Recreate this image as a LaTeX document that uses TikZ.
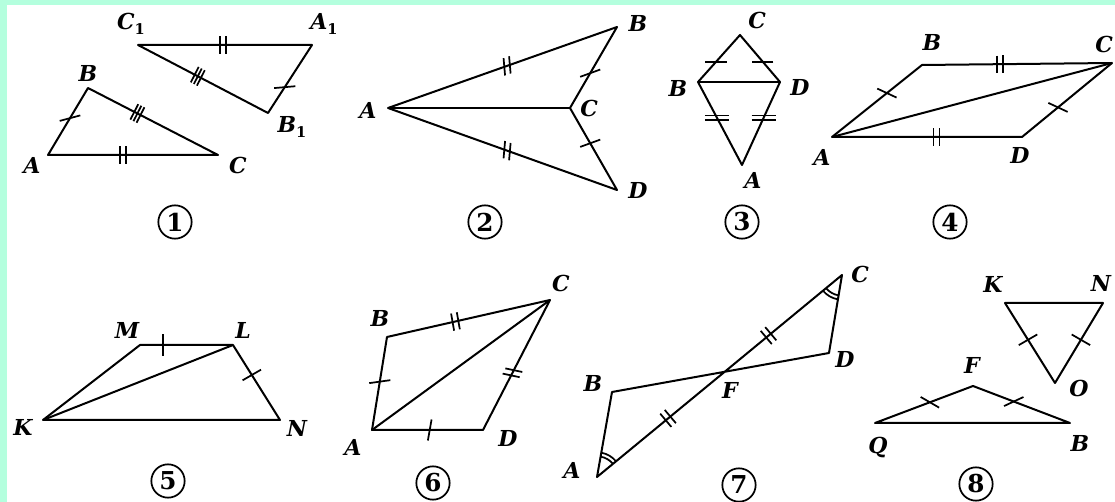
\documentclass[tikz,border=0pt]{standalone}
\usepackage{fontspec}
\newfontfamily\lblfont{DejaVu Serif}
\usetikzlibrary{calc}
\definecolor{bordergreen}{RGB}{180,255,222}
\newcommand\tkone[4]{%
  \coordinate (tk) at ($(#1)!#3!(#2)$);
  \draw[tickline] ($(tk)+(#4:8pt)$) -- ($(tk)-(#4:8pt)$);}
\newcommand\tktwo[4]{%
  \coordinate (tk) at ($(#1)!#3!(#2)$);
  \coordinate (tka) at ($(tk)!2.2pt!(#2)$);
  \coordinate (tkb) at ($(tk)!2.2pt!(#1)$);
  \draw[tickline] ($(tka)+(#4:6.5pt)$) -- ($(tka)-(#4:6.5pt)$);
  \draw[tickline] ($(tkb)+(#4:6.5pt)$) -- ($(tkb)-(#4:6.5pt)$);}
\newcommand\tkthree[4]{%
  \coordinate (tk) at ($(#1)!#3!(#2)$);
  \coordinate (tka) at ($(tk)!2.6pt!(#2)$);
  \coordinate (tkb) at ($(tk)!2.6pt!(#1)$);
  \draw[tickline] ($(tk)+(#4:6.5pt)$) -- ($(tk)-(#4:6.5pt)$);
  \draw[tickline] ($(tka)+(#4:6.5pt)$) -- ($(tka)-(#4:6.5pt)$);
  \draw[tickline] ($(tkb)+(#4:6.5pt)$) -- ($(tkb)-(#4:6.5pt)$);}
\newcommand\hztwo[3]{%
  \coordinate (tk) at ($(#1)!#3!(#2)$);
  \draw[tickline] ($(tk)+(-9pt,1.6pt)$) -- ($(tk)+(9pt,1.6pt)$);
  \draw[tickline] ($(tk)+(-9pt,-1.6pt)$) -- ($(tk)+(9pt,-1.6pt)$);}
\newcommand\subone{{\fontsize{11}{11}\selectfont\upshape\raisebox{-4pt}{1}}}
\begin{document}
\begin{tikzpicture}[x=0.75pt,y=-0.75pt,
  fig/.style={line width=1.5pt, line join=round},
  tickline/.style={line width=1.3pt},
  lbl/.style={font=\lblfont\fontsize{16.5}{16.5}\selectfont\bfseries\itshape, inner sep=0pt},
  num/.style={circle, draw, line width=1.3pt, minimum size=25pt, inner sep=0pt,
    font=\lblfont\fontsize{18.5}{18.5}\selectfont\bfseries}]
\fill[bordergreen] (0,0) rectangle (1115,502);
\fill[white] (7,5) rectangle (1115,502);
\useasboundingbox (0,0) rectangle (1115,502);

% ---------- Figure 1 ----------
\coordinate (p1C1) at (138,45);
\coordinate (p1A1) at (312,45);
\coordinate (p1B1) at (268,113);
\coordinate (p1B) at (88,88);
\coordinate (p1A) at (48,155);
\coordinate (p1C) at (218,155);
\draw[fig] (p1C1) -- (p1A1) -- (p1B1) -- cycle;
\draw[fig] (p1A) -- (p1B) -- (p1C) -- cycle;
\tktwo{p1C1}{p1A1}{0.49}{90}
\tkthree{p1C1}{p1B1}{0.46}{63}
\tkone{p1A1}{p1B1}{0.62}{5}
\tkone{p1A}{p1B}{0.55}{15}
\tkthree{p1B}{p1C}{0.38}{63}
\tktwo{p1A}{p1C}{0.44}{90}
\node[lbl] (l1C1) at (131,24) {C\subone};
\node[lbl] (l1A1) at (324,24) {A\subone};
\node[lbl] (l1B1) at (292,127) {B\subone};
\node[lbl] (l1B) at (88,73) {B};
\node[lbl] (l1A) at (32,165) {A};
\node[lbl] (l1C) at (238,165) {C};
\node[num] (n1) at (175,222) {1};

% ---------- Figure 2 ----------
\coordinate (p2A) at (388,108);
\coordinate (p2B) at (617,27);
\coordinate (p2C) at (570,108);
\coordinate (p2D) at (617,190);
\draw[fig] (p2A) -- (p2B) -- (p2C) -- (p2D) -- cycle;
\draw[fig] (p2A) -- (p2C);
\tktwo{p2A}{p2B}{0.52}{95}
\tktwo{p2A}{p2D}{0.52}{85}
\tkone{p2B}{p2C}{0.57}{20}
\tkone{p2C}{p2D}{0.43}{20}
\node[lbl] (l2A) at (368,110) {A};
\node[lbl] (l2B) at (638,23) {B};
\node[lbl] (l2C) at (589,108) {C};
\node[lbl] (l2D) at (638,190) {D};
\node[num] (n2) at (485,222) {2};

% ---------- Figure 3 ----------
\coordinate (p3C) at (740,35);
\coordinate (p3B) at (698,82);
\coordinate (p3D) at (780,82);
\coordinate (p3A) at (742,165);
\draw[fig] (p3C) -- (p3B) -- (p3A) -- (p3D) -- cycle;
\draw[fig] (p3B) -- (p3D);
\tkone{p3C}{p3B}{0.57}{0}
\tkone{p3C}{p3D}{0.57}{0}
\hztwo{p3B}{p3A}{0.43}
\hztwo{p3D}{p3A}{0.43}
\node[lbl] (l3C) at (757,20) {C};
\node[lbl] (l3B) at (678,88) {B};
\node[lbl] (l3D) at (800,87) {D};
\node[lbl] (l3A) at (753,180) {A};
\node[num] (n3) at (742,222) {3};

% ---------- Figure 4 ----------
\coordinate (p4B) at (922,65);
\coordinate (p4C) at (1112,63);
\coordinate (p4A) at (832,137);
\coordinate (p4D) at (1022,137);
\draw[fig] (p4A) -- (p4B) -- (p4C) -- (p4D) -- cycle;
\draw[fig] (p4A) -- (p4C);
\tktwo{p4B}{p4C}{0.41}{90}
\tktwo{p4A}{p4D}{0.55}{90}
\tkone{p4A}{p4B}{0.61}{-25}
\tkone{p4C}{p4D}{0.6}{-25}
\node[lbl] (l4B) at (932,42) {B};
\node[lbl] (l4C) at (1104,44) {C};
\node[lbl] (l4A) at (822,157) {A};
\node[lbl] (l4D) at (1020,155) {D};
\node[num] (n4) at (950,222) {4};

% ---------- Figure 5 ----------
\coordinate (p5M) at (140,345);
\coordinate (p5L) at (233,345);
\coordinate (p5K) at (43,420);
\coordinate (p5N) at (280,420);
\draw[fig] (p5K) -- (p5M) -- (p5L) -- (p5N) -- cycle;
\draw[fig] (p5K) -- (p5L);
\tkone{p5M}{p5L}{0.25}{90}
\tkone{p5L}{p5N}{0.4}{30}
\node[lbl] (l5M) at (127,330) {M};
\node[lbl] (l5L) at (243,330) {L};
\node[lbl] (l5K) at (23,427) {K};
\node[lbl] (l5N) at (297,428) {N};
\node[num] (n5) at (168,481) {5};

% ---------- Figure 6 ----------
\coordinate (p6B) at (387,337);
\coordinate (p6C) at (550,300);
\coordinate (p6A) at (372,430);
\coordinate (p6D) at (483,430);
\draw[fig] (p6A) -- (p6B) -- (p6C) -- (p6D) -- cycle;
\draw[fig] (p6A) -- (p6C);
\tktwo{p6B}{p6C}{0.42}{100}
\tktwo{p6C}{p6D}{0.56}{-12}
\tkone{p6A}{p6B}{0.52}{8}
\tkone{p6A}{p6D}{0.52}{80}
\node[lbl] (l6C) at (561,283) {C};
\node[lbl] (l6B) at (380,318) {B};
\node[lbl] (l6A) at (353,447) {A};
\node[lbl] (l6D) at (508,438) {D};
\node[num] (n6) at (433,483) {6};

% ---------- Figure 7 ----------
\coordinate (p7A) at (597,477);
\coordinate (p7B) at (612,392);
\coordinate (p7C) at (842,275);
\coordinate (p7D) at (829,353);
\coordinate (p7F) at (intersection of p7A--p7C and p7B--p7D);
\draw[fig] (p7A) -- (p7B) -- (p7F) -- (p7D) -- (p7C) -- (p7F) -- cycle;
\tktwo{p7A}{p7C}{0.29}{-50}
\tktwo{p7A}{p7C}{0.70}{-50}
\draw[tickline] ($(p7A)+(39.5:15.5pt)$) arc[start angle=39.5, end angle=80, radius=15.5pt];
\draw[tickline] ($(p7A)+(39.5:18.5pt)$) arc[start angle=39.5, end angle=80, radius=18.5pt];
\draw[tickline] ($(p7C)+(219.5:15.5pt)$) arc[start angle=219.5, end angle=260.5, radius=15.5pt];
\draw[tickline] ($(p7C)+(219.5:18.5pt)$) arc[start angle=219.5, end angle=260.5, radius=18.5pt];
\node[lbl] (l7C) at (860,274) {C};
\node[lbl] (l7D) at (845,359) {D};
\node[lbl] (l7B) at (593,383) {B};
\node[lbl] (l7F) at (730,390) {F};
\node[lbl] (l7A) at (572,470) {A};
\node[num] (n7) at (739,485) {7};

% ---------- Figure 8 ----------
\coordinate (p8K) at (1005,303);
\coordinate (p8N) at (1103,303);
\coordinate (p8O) at (1055,383);
\coordinate (p8Q) at (875,423);
\coordinate (p8F) at (973,386);
\coordinate (p8B) at (1070,423);
\draw[fig] (p8K) -- (p8N) -- (p8O) -- cycle;
\draw[fig] (p8Q) -- (p8F) -- (p8B) -- cycle;
\tkone{p8K}{p8O}{0.46}{30}
\tkone{p8N}{p8O}{0.46}{-30}
\tkone{p8Q}{p8F}{0.56}{-30}
\tkone{p8F}{p8B}{0.42}{25}
\node[lbl] (l8K) at (993,284) {K};
\node[lbl] (l8N) at (1101,283) {N};
\node[lbl] (l8O) at (1079,388) {O};
\node[lbl] (l8F) at (972,365) {F};
\node[lbl] (l8Q) at (878,447) {Q};
\node[lbl] (l8B) at (1080,443) {B};
\node[num] (n8) at (976,484) {8};
\end{tikzpicture}
\end{document}
